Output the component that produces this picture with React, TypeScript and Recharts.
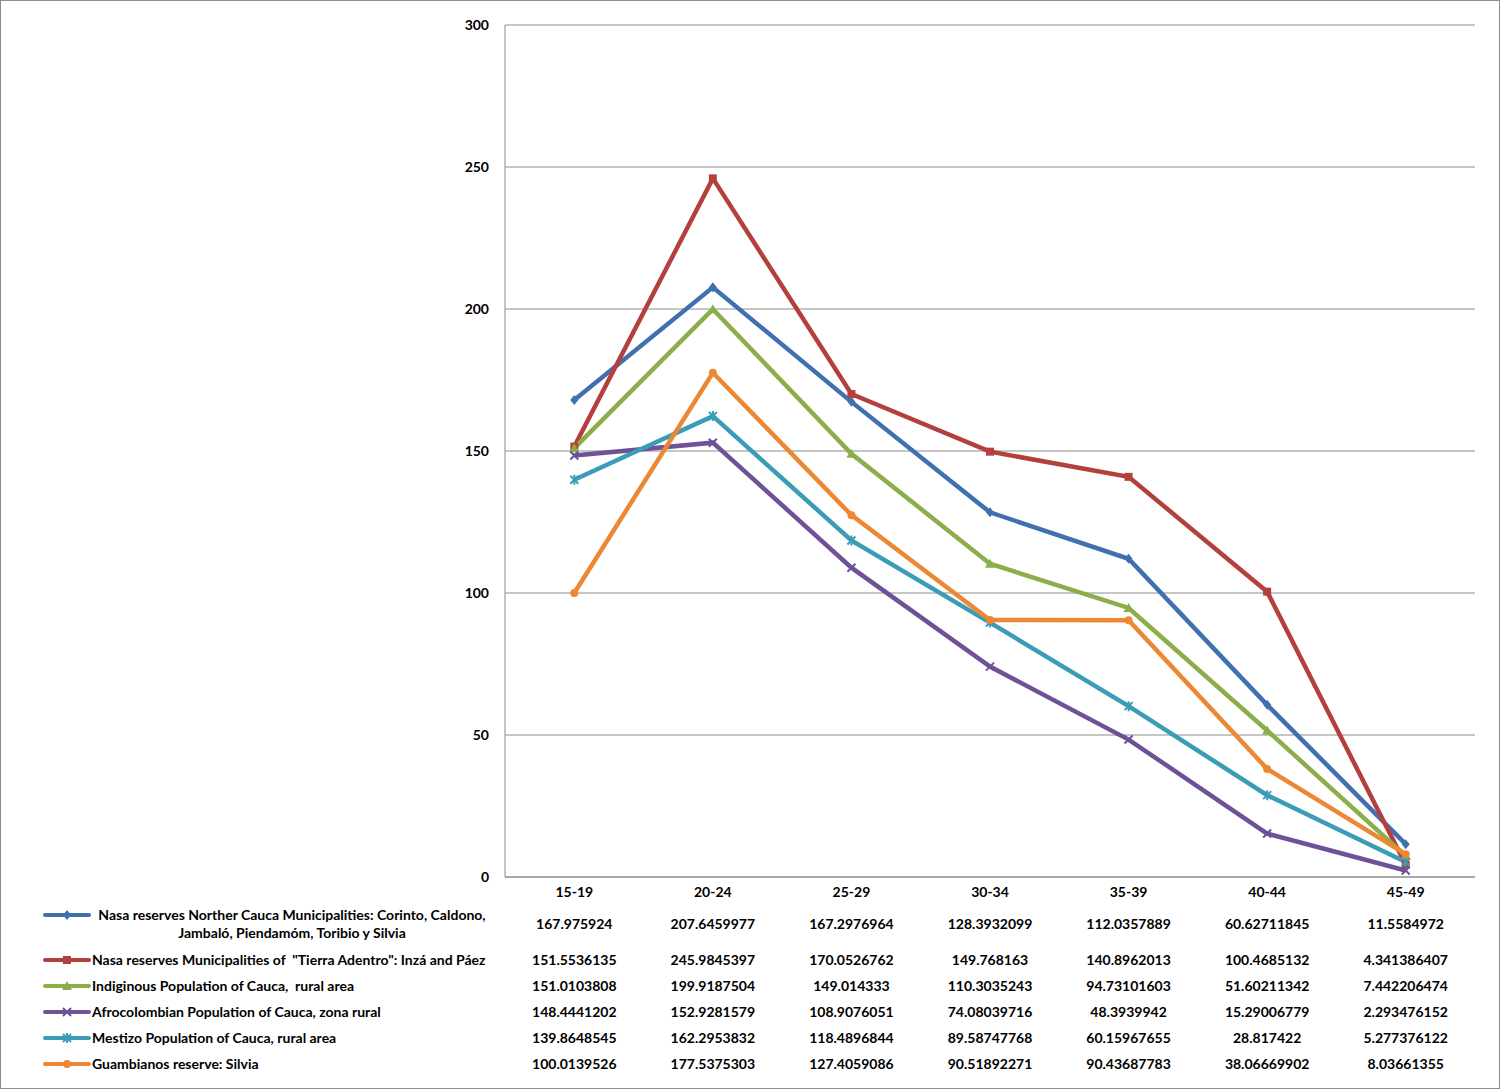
import React from "react";
import { LineChart, Line, XAxis, YAxis, CartesianGrid } from "recharts";

const categories = ["15-19", "20-24", "25-29", "30-34", "35-39", "40-44", "45-49"];

const nasaNorth = [167.975924, 207.6459977, 167.2976964, 128.3932099, 112.0357889, 60.62711845, 11.5584972];
const nasaTierra = [151.5536135, 245.9845397, 170.0526762, 149.768163, 140.8962013, 100.4685132, 4.341386407];
const indigenous = [151.0103808, 199.9187504, 149.014333, 110.3035243, 94.73101603, 51.60211342, 7.442206474];
const afro = [148.4441202, 152.9281579, 108.9076051, 74.08039716, 48.3939942, 15.29006779, 2.293476152];
const mestizo = [139.8648545, 162.2953832, 118.4896844, 89.58747768, 60.15967655, 28.817422, 5.277376122];
const guambianos = [100.0139526, 177.5375303, 127.4059086, 90.51892271, 90.43687783, 38.06669902, 8.03661355];

const yTicks = [0, 50, 100, 150, 200, 250, 300];

const seriesList = [
  { key: "s1", name: "Nasa reserves Norther Cauca Municipalities: Corinto, Caldono,\nJambaló, Piendamóm, Toribio y Silvia", values: nasaNorth, color: "#4170AF", marker: "diamond" },
  { key: "s2", name: 'Nasa reserves Municipalities of  "Tierra Adentro": Inzá and Páez', values: nasaTierra, color: "#B3403D", marker: "square" },
  { key: "s3", name: "Indiginous Population of Cauca,  rural area", values: indigenous, color: "#8CAE4A", marker: "triangle" },
  { key: "s4", name: "Afrocolombian Population of Cauca, zona rural", values: afro, color: "#6E5196", marker: "x" },
  { key: "s5", name: "Mestizo Population of Cauca, rural area", values: mestizo, color: "#3A9CB6", marker: "star" },
  { key: "s6", name: "Guambianos reserve: Silvia", values: guambianos, color: "#EC8834", marker: "circle" },
];

const data = categories.map((c, i) => {
  const row: Record<string, string | number> = { cat: c };
  seriesList.forEach((s) => (row[s.key] = s.values[i]));
  return row;
});

const W = 1500;
const H = 1089;
const PLOT_L = 505;
const PLOT_R = 1475;
const PLOT_T = 25;
const PLOT_B = 877;
const FONT = "Lato, 'Liberation Sans', sans-serif";
const FS = 14;

function Marker({ cx, cy, type, color }: { cx: number; cy: number; type: string; color: string }) {
  const r = 4;
  switch (type) {
    case "diamond":
      return <path d={`M${cx},${cy - r - 1}L${cx + r},${cy}L${cx},${cy + r + 1}L${cx - r},${cy}Z`} fill={color} />;
    case "square":
      return <rect x={cx - r} y={cy - r} width={2 * r} height={2 * r} fill={color} />;
    case "triangle":
      return <path d={`M${cx},${cy - r - 1}L${cx + r + 1},${cy + r}L${cx - r - 1},${cy + r}Z`} fill={color} />;
    case "x":
      return (
        <path d={`M${cx - r},${cy - r}L${cx + r},${cy + r}M${cx + r},${cy - r}L${cx - r},${cy + r}`} stroke={color} strokeWidth={2} />
      );
    case "star":
      return (
        <path
          d={`M${cx - r},${cy - r}L${cx + r},${cy + r}M${cx + r},${cy - r}L${cx - r},${cy + r}M${cx},${cy - r - 1}L${cx},${cy + r + 1}`}
          stroke={color}
          strokeWidth={2}
        />
      );
    default:
      return <circle cx={cx} cy={cy} r={r} fill={color} />;
  }
}

function makeDot(type: string, color: string) {
  return (props: any) => {
    const { cx, cy, index } = props;
    if (cx == null || cy == null) return <g key={index} />;
    return <Marker key={index} cx={cx} cy={cy} type={type} color={color} />;
  };
}

const catWidth = (PLOT_R - PLOT_L) / categories.length;
const rowTops = [905, 950, 976, 1002, 1028, 1054];

export default function App() {
  return (
    <div
      style={{
        position: "absolute",
        left: 0,
        top: 0,
        width: W,
        height: H,
        background: "#fff",
        border: "1px solid #8c8c8c",
        boxSizing: "border-box",
        fontFamily: FONT,
        fontWeight: 700,
        fontSize: FS,
        color: "#000",
      }}
    >
      <div style={{ position: "absolute", left: -1, top: -1 }}>
        <LineChart
          width={W}
          height={H}
          data={data}
          margin={{ top: PLOT_T, right: W - PLOT_R, bottom: H - PLOT_B - 30, left: 0 }}
        >
          <CartesianGrid vertical={false} stroke="#8c8c8c" strokeWidth={1} />
          <XAxis
            dataKey="cat"
            height={30}
            tickLine={false}
            axisLine={{ stroke: "#8c8c8c" }}
            tick={{ fill: "#000", fontSize: FS, fontWeight: 700, fontFamily: FONT }}
            tickMargin={4}
            interval={0}
            padding={{ left: catWidth / 2, right: catWidth / 2 }}
          />
          <YAxis
            width={PLOT_L}
            domain={[0, 300]}
            ticks={yTicks}
            tickLine={false}
            axisLine={{ stroke: "#8c8c8c" }}
            tick={{ fill: "#000", fontSize: FS, fontWeight: 700, fontFamily: FONT }}
            tickMargin={10}
          />
          {seriesList.map((s) => (
            <Line
              key={s.key}
              dataKey={s.key}
              stroke={s.color}
              strokeWidth={4.5}
              dot={makeDot(s.marker, s.color)}
              activeDot={false}
              isAnimationActive={false}
              type="linear"
            />
          ))}
        </LineChart>
      </div>

      {seriesList.map((s, si) => {
        const top = rowTops[si];
        const lines = s.name.split("\n");
        return (
          <div key={s.key} style={{ position: "absolute", left: 0, top, width: W, height: 26 }}>
            <svg style={{ position: "absolute", left: 40, top: 1 }} width={52} height={16}>
              <line x1={4} y1={8} x2={48} y2={8} stroke={s.color} strokeWidth={4} strokeLinecap="round" />
              <Marker cx={26} cy={8} type={s.marker} color={s.color} />
            </svg>
            <div
              style={{
                position: "absolute",
                left: 91,
                top: 0,
                width: lines.length > 1 ? 400 : 420,
                textAlign: lines.length > 1 ? "center" : "left",
                lineHeight: "18px",
                whiteSpace: "pre",
              }}
            >
              {s.name}
            </div>
            {s.values.map((v, i) => (
              <div
                key={i}
                style={{
                  position: "absolute",
                  left: PLOT_L + catWidth * (i + 0.5) - 1,
                  top: si === 0 ? 9 : 0,
                  transform: "translateX(-50%)",
                  lineHeight: "18px",
                  whiteSpace: "nowrap",
                }}
              >
                {String(v)}
              </div>
            ))}
          </div>
        );
      })}
    </div>
  );
}
